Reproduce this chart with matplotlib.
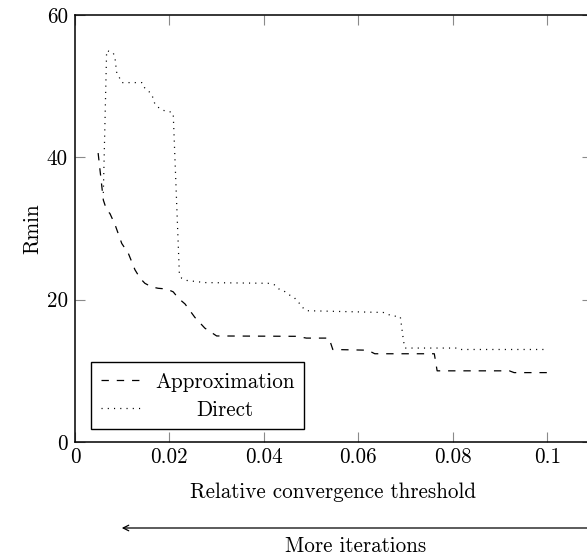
import matplotlib
matplotlib.use("Agg")
import matplotlib.pyplot as plt
import matplotlib.transforms as mtransforms
from matplotlib.ticker import FuncFormatter

# threshold vs. Rmin
approx_x = [0.0049, 0.0060, 0.0067, 0.0074, 0.0085, 0.0099, 0.0113, 0.0127, 0.0138,
            0.0148, 0.0162, 0.0176, 0.0194, 0.0208, 0.0219, 0.0233, 0.0254, 0.0275,
            0.0300, 0.0470, 0.0490, 0.0538, 0.0546, 0.0620, 0.0635, 0.0761, 0.0767,
            0.0920, 0.0930, 0.1000]
approx_y = [40.6, 34.0, 32.6, 32.1, 30.5, 27.9, 26.5, 24.2, 23.0,
            22.3, 21.8, 21.6, 21.5, 21.1, 20.2, 19.4, 17.5, 16.0,
            14.9, 14.85, 14.6, 14.6, 13.0, 12.9, 12.4, 12.4, 10.0,
            10.0, 9.75, 9.75]

direct_x = [0.0060, 0.0067, 0.0081, 0.0085, 0.0088, 0.0094, 0.0099, 0.0142, 0.0148,
            0.0159, 0.0166, 0.0169, 0.0177, 0.0187, 0.0201, 0.0208, 0.0221, 0.0226,
            0.0237, 0.0275, 0.0409, 0.0422, 0.0432, 0.0443, 0.0453, 0.0464, 0.0473,
            0.0480, 0.0491, 0.0653, 0.0664, 0.0676, 0.0689, 0.0696, 0.0699, 0.0810,
            0.0815, 0.1000]
direct_y = [35.0, 55.0, 54.7, 53.8, 52.0, 51.2, 50.5, 50.5, 49.7,
            49.1, 48.3, 47.5, 47.0, 46.6, 46.4, 46.2, 23.7, 23.0,
            22.7, 22.4, 22.3, 22.1, 21.5, 21.2, 20.7, 20.3, 19.7,
            19.0, 18.45, 18.2, 17.9, 17.7, 17.6, 14.1, 13.2, 13.2,
            13.0, 13.0]

x_ticks = [0, 0.02, 0.04, 0.06, 0.08, 0.1]
y_ticks = [0, 20, 40, 60]

plt.rcParams['font.family'] = ['cmr10', 'DejaVu Serif']
plt.rcParams['axes.formatter.use_mathtext'] = True
plt.rcParams['lines.scale_dashes'] = False
fs = 15.2

fig = plt.figure(figsize=(5.87, 5.59), dpi=100)
ax = fig.add_axes([75 / 587, 117 / 559, 517 / 587, 427 / 559])

ax.plot(approx_x, approx_y, color='black', lw=0.9, dashes=(5.3, 5.7), label='Approximation')
ax.plot(direct_x, direct_y, color='black', lw=0.9, dashes=(0.8, 3.7), label='Direct')

ax.set_xlim(0, 0.1095)
ax.set_ylim(0, 60)
ax.set_xticks(x_ticks)
ax.set_yticks(y_ticks)
ax.xaxis.set_major_formatter(FuncFormatter(lambda v, p: '%g' % v))
ax.yaxis.set_major_formatter(FuncFormatter(lambda v, p: '%g' % v))
ax.tick_params(direction='in', length=7.5, width=0.8, color='#8a8a8a',
               top=True, right=True, labelsize=fs)
ax.tick_params(axis='x', pad=4)
ax.tick_params(axis='y', pad=5)
for s in ax.spines.values():
    s.set_linewidth(1.1)

ax.set_xlabel('Relative convergence threshold', fontsize=fs, labelpad=11)
ax.set_ylabel('Rmin', fontsize=fs, labelpad=3)

leg = ax.legend(loc='lower left', bbox_to_anchor=(16 / 517, 13 / 427), fontsize=fs,
                fancybox=False, edgecolor='black', framealpha=1, handlelength=2.0,
                handletextpad=0.6, borderpad=0.45, labelspacing=0.4, borderaxespad=0)
leg.get_frame().set_linewidth(1.0)

# centre "Direct" under "Approximation" like the original legend
fig.canvas.draw()
r = fig.canvas.get_renderer()
t0, t1 = leg.get_texts()
dx = (t0.get_window_extent(r).width - t1.get_window_extent(r).width) / 2
t1.set_transform(t1.get_transform() + mtransforms.Affine2D().translate(dx, 0))

ax.annotate('', xy=(119 / 587, 31 / 559), xytext=(1.02, 31 / 559),
            xycoords='figure fraction', textcoords='figure fraction',
            arrowprops=dict(arrowstyle='->', lw=0.9, color='black'))
fig.text(356 / 587, 13 / 559, 'More iterations', ha='center', va='center', fontsize=fs)

fig.savefig('out.png', dpi=100)
